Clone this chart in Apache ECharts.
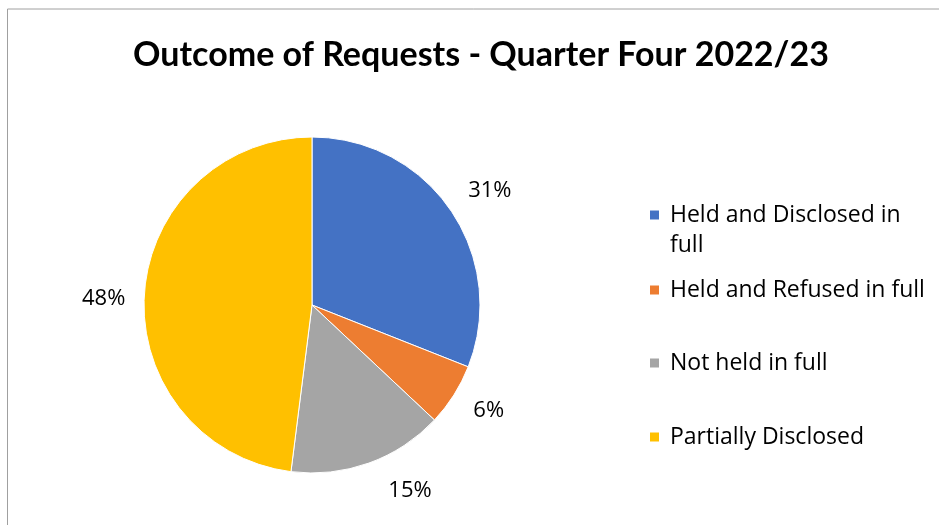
<!DOCTYPE html>
<html><head><meta charset="utf-8">
<script src="https://cdn.jsdelivr.net/npm/echarts@6/dist/echarts.min.js"></script>
<style>html,body{margin:0;padding:0;background:#fff}#c{width:939px;height:525px}</style>
</head><body><div id="c"></div>
<script>
const titleText = 'Outcome of Requests - Quarter Four 2022/23';
const categories = ['Held and Disclosed in full', 'Held and Refused in full', 'Not held in full', 'Partially Disclosed'];
const values = [31, 6, 15, 48];
const colors = ['#4472C4', '#ED7D31', '#A5A5A5', '#FFC000'];
const legendTops = [165, 270, 343, 417];
const labelNudges = [[-3, -11], [-1, 7], [7, 13], [4, 5]];

const font = 'Open Sans';
const chart = echarts.init(document.getElementById('c'));
const legends = categories.map((name, i) => ({
  data: [name],
  orient: 'vertical',
  left: 643,
  top: legendTops[i],
  itemWidth: 11,
  itemHeight: 11,
  icon: 'rect',
  itemGap: 0,
  selectedMode: false,
  formatter: n => n === 'Held and Disclosed in full' ? '\nHeld and Disclosed in\nfull' : n,
  textStyle: {
    fontFamily: font, fontSize: 23, color: '#000', lineHeight: 30,
    padding: [0, 0, 0, 5]
  }
}));
chart.setOption({
  backgroundColor: '#fff',
  title: {
    text: titleText, left: 476, top: 33, textAlign: 'center',
    textStyle: { fontFamily: 'Lato', fontSize: 34, fontWeight: 'bold', color: '#000' }
  },
  legend: legends,
  graphic: [
    { type: 'line', shape: { x1: 7.5, y1: 9, x2: 939, y2: 9 }, style: { stroke: '#a0a0a0', lineWidth: 1 } },
    { type: 'line', shape: { x1: 7.5, y1: 9, x2: 7.5, y2: 525 }, style: { stroke: '#a0a0a0', lineWidth: 1 } }
  ],
  series: [{
    type: 'pie',
    center: [312, 305],
    radius: 168,
    startAngle: 90,
    clockwise: true,
    animation: false,
    data: categories.map((n, i) => ({ name: n, value: values[i], itemStyle: { color: colors[i] } })),
    itemStyle: { borderColor: '#fff', borderWidth: 1 },
    label: {
      show: true, position: 'outside', formatter: '{d}%',
      fontFamily: font, fontSize: 22, color: '#000'
    },
    labelLine: { show: false, length: 16, length2: 2 },
    labelLayout: p => ({ dx: labelNudges[p.dataIndex][0], dy: labelNudges[p.dataIndex][1] }),
    emphasis: { disabled: true }
  }]
});
</script></body></html>
